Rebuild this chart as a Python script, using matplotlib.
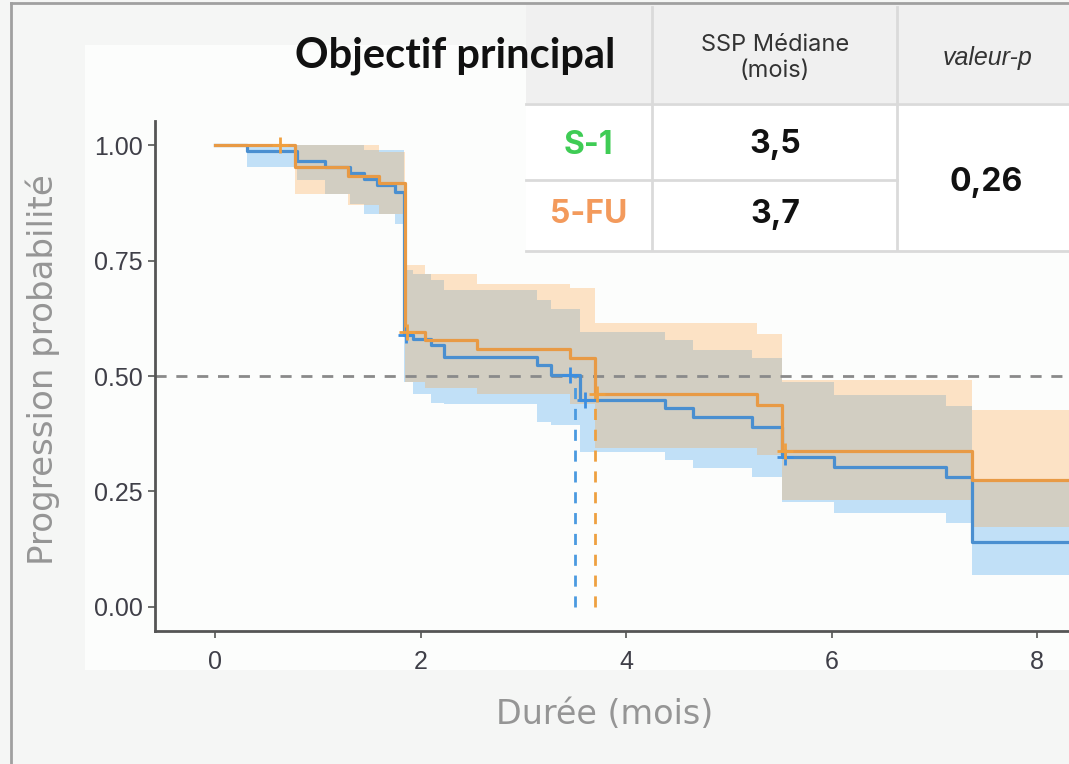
import numpy as np
import matplotlib.pyplot as plt
from matplotlib.patches import Rectangle
from matplotlib.lines import Line2D

# ---------------- data ----------------
# S-1 Kaplan-Meier step curve (time in months, survival probability)
s1_t = [0, 0.31, 0.80, 1.07, 1.31, 1.45, 1.58, 1.75, 1.84, 1.93, 2.10, 2.23,
        3.13, 3.27, 3.55, 4.38, 4.65, 5.23, 5.52, 6.02, 7.11, 7.37]
s1_p = [1.0, 0.986, 0.966, 0.952, 0.940, 0.926, 0.913, 0.899, 0.589, 0.580,
        0.567, 0.542, 0.524, 0.502, 0.448, 0.430, 0.412, 0.389, 0.325, 0.302,
        0.281, 0.140]
s1_hi = [1.0, 1.0, 1.0, 1.0, 1.0, 0.99, 0.99, 0.99, 0.729, 0.72, 0.708, 0.686,
         0.665, 0.645, 0.596, 0.578, 0.556, 0.538, 0.488, 0.459, 0.434, 0.272]
s1_lo = [1.0, 0.953, 0.924, 0.895, 0.872, 0.85, 0.85, 0.828, 0.488, 0.462,
         0.441, 0.44, 0.40, 0.394, 0.336, 0.318, 0.30, 0.282, 0.228, 0.203,
         0.181, 0.069]
s1_cens = [1.86, 3.45, 3.60, 5.55]

# 5-FU Kaplan-Meier step curve
fu_t = [0, 0.78, 1.29, 1.60, 1.85, 2.04, 2.55, 3.45, 3.70, 5.27, 5.52, 7.37]
fu_p = [1.0, 0.952, 0.933, 0.917, 0.596, 0.579, 0.558, 0.538, 0.460, 0.437,
        0.337, 0.275]
fu_hi = [1.0, 1.0, 1.0, 0.985, 0.74, 0.72, 0.70, 0.69, 0.614, 0.592, 0.491,
         0.426]
fu_lo = [1.0, 0.895, 0.87, 0.85, 0.488, 0.475, 0.46, 0.44, 0.345, 0.329,
         0.232, 0.174]
fu_cens = [0.63, 1.87, 3.72, 5.55]

medians = [3.5, 3.7]
t_end = 8.31

x_ticks = [0, 2, 4, 6, 8]
y_ticks = [0.00, 0.25, 0.50, 0.75, 1.00]

title = "Objectif principal"
col_headers = ["SSP Médiane\n(mois)", "valeur-p"]
groups = ["S-1", "5-FU"]
median_labels = ["3,5", "3,7"]
p_value = "0,26"

# ---------------- styling ----------------
blue_line = '#4a8fd0'
orange_line = '#e89a45'
blue_fill = '#3a9eee'
orange_fill = '#fca548'

W, H = 1069, 764
fig = plt.figure(figsize=(W / 100, H / 100), dpi=100)
fig.patch.set_facecolor('#f5f6f5')


def fx(x):
    return x / W


def fy(y):
    return 1 - y / H


# inner panel & frame
fig.add_artist(Rectangle((fx(85), fy(670)), fx(1069) - fx(85), fy(45) - fy(670),
                         transform=fig.transFigure, facecolor='#fcfdfc',
                         edgecolor='none', zorder=-1))
fig.add_artist(Line2D([fx(11), fx(11)], [fy(3), 0], transform=fig.transFigure,
                      color='#a0a0a0', lw=2, zorder=10))
fig.add_artist(Line2D([fx(11), 1], [fy(3), fy(3)], transform=fig.transFigure,
                      color='#a0a0a0', lw=2, zorder=10))

ax = fig.add_axes([fx(155), fy(631), 1 - fx(155), fy(121) - fy(631)])
ax.set_facecolor('none')
ax.set_xlim(-0.584, t_end)
ax.set_ylim(-0.052, 1.052)


def extend(t, v):
    return list(t) + [t_end], list(v) + [v[-1]]


def step_at(t, v, x):
    i = np.searchsorted(np.asarray(t), x, side='right') - 1
    return np.asarray(v)[i]


# confidence bands
for t, lo, hi, c in [(s1_t, s1_lo, s1_hi, blue_fill), (fu_t, fu_lo, fu_hi, orange_fill)]:
    tt, ll = extend(t, lo)
    _, hh = extend(t, hi)
    ax.fill_between(tt, ll, hh, step='post', color=c, alpha=0.3, lw=0, zorder=1)

# median reference lines
ax.axhline(0.5, color='#8a8a8a', lw=2, ls=(0, (4, 3.5)), zorder=2)
ax.plot([medians[0]] * 2, [0, 0.5], color='#4a9ae0', lw=2, ls=(0, (4, 3.5)), zorder=2)
ax.plot([medians[1]] * 2, [0, 0.5], color='#eea040', lw=2, ls=(0, (4, 3.5)), zorder=2)

# survival curves
for t, p, c in [(s1_t, s1_p, blue_line), (fu_t, fu_p, orange_line)]:
    tt, pp = extend(t, p)
    ax.step(tt, pp, where='post', color=c, lw=2.3, zorder=3)

# censor marks
ax.plot(s1_cens, step_at(s1_t, s1_p, s1_cens), ls='none', marker='+', ms=12,
        mew=2, color='#3c8ee0', zorder=4)
ax.plot(fu_cens, step_at(fu_t, fu_p, fu_cens), ls='none', marker='+', ms=12,
        mew=2, color='#f0a040', zorder=4)

# axes styling
for s in ['top', 'right']:
    ax.spines[s].set_visible(False)
for s in ['left', 'bottom']:
    ax.spines[s].set_color('#555555')
    ax.spines[s].set_linewidth(2)
ax.set_xticks(x_ticks)
ax.set_yticks(y_ticks)
ax.set_yticklabels([f"{v:.2f}" for v in y_ticks])
ax.tick_params(axis='both', colors='#555555', length=5, width=1.2,
               labelsize=18, labelcolor='#3f3f48')
ax.tick_params(axis='x', pad=9)
ax.tick_params(axis='y', pad=4)
for lab in ax.get_xticklabels() + ax.get_yticklabels():
    lab.set_family('Liberation Sans')

fig.text(fx(43), fy(370), "Progression probabilité", rotation=90, ha='center',
         va='center', fontsize=24.5, color='#959595', family='DejaVu Sans')
fig.text(fx(605), fy(714), "Durée (mois)", ha='center', va='center',
         fontsize=24, color='#959595', family='DejaVu Sans')

# ---------------- table ----------------
fig.add_artist(Rectangle((fx(526), fy(103)), 1 - fx(526), fy(5) - fy(103),
                         transform=fig.transFigure, facecolor='#f0f0f0',
                         edgecolor='none', zorder=5))
fig.add_artist(Rectangle((fx(526), fy(250)), 1 - fx(526), fy(103) - fy(250),
                         transform=fig.transFigure, facecolor='#ffffff',
                         edgecolor='none', zorder=5))
lc = '#dadada'
for xv in [652, 897]:
    fig.add_artist(Line2D([fx(xv)] * 2, [fy(7), fy(250)], transform=fig.transFigure,
                          color=lc, lw=2, zorder=6))
fig.add_artist(Line2D([fx(526), 1], [fy(104), fy(104)], transform=fig.transFigure,
                      color=lc, lw=2, zorder=6))
fig.add_artist(Line2D([fx(526), fx(897)], [fy(180), fy(180)], transform=fig.transFigure,
                      color=lc, lw=2, zorder=6))
fig.add_artist(Line2D([fx(526), 1], [fy(251), fy(251)], transform=fig.transFigure,
                      color=lc, lw=2, zorder=6))

fig.text(fx(455), fy(56), title, ha='center', va='center', fontsize=30,
         fontweight='bold', family='Lato', color='#111111', zorder=7)
fig.text(fx(775), fy(58), col_headers[0], ha='center', va='center', fontsize=17,
         family='Inter', color='#333333', linespacing=1.2, zorder=7)
fig.text(fx(987), fy(58), col_headers[1], ha='center', va='center', fontsize=18,
         family='Liberation Sans', style='italic', color='#333333', zorder=7)
fig.text(fx(588), fy(145), groups[0], ha='center', va='center', fontsize=23,
         fontweight='bold', family='Inter', color='#3fcc55', zorder=7)
fig.text(fx(589), fy(215), groups[1], ha='center', va='center', fontsize=23,
         fontweight='bold', family='Inter', color='#f39a5c', zorder=7)
fig.text(fx(775), fy(145), median_labels[0], ha='center', va='center', fontsize=23,
         fontweight='bold', family='Inter', color='#111111', zorder=7)
fig.text(fx(775), fy(215), median_labels[1], ha='center', va='center', fontsize=23,
         fontweight='bold', family='Inter', color='#111111', zorder=7)
fig.text(fx(986), fy(183), p_value, ha='center', va='center', fontsize=23,
         fontweight='bold', family='Inter', color='#111111', zorder=7)

fig.savefig('out.png', dpi=100, facecolor=fig.get_facecolor())
